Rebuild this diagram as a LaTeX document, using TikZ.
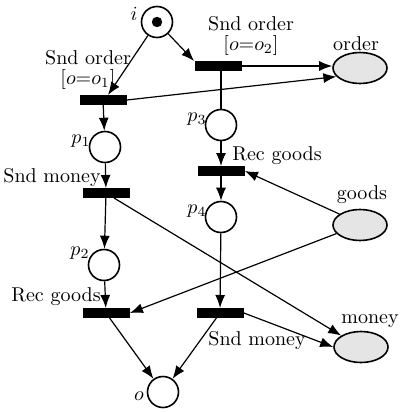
\documentclass[tikz,border=0pt]{standalone}
\usepackage{amsmath}
\usepackage{tikz}
\usetikzlibrary{shapes.geometric,arrows.meta,positioning,calc}
\tikzset{
  %Define standard arrow tip
  >={Latex[length=6.5pt,width=5pt]},
  %Define style for places
  plads/.style={
    circle,
    draw=black, thick,
    fill=white,
    minimum size=15.5pt,
    inner sep=0pt},
  %Define style for transitions
  overgang/.style={
    rectangle,
    fill=black,
    minimum width=23.5pt,
    minimum height=4.6pt,
    inner sep=0pt},
  %Define style for resources
  ressource/.style={
    ellipse,
    draw=black, thick,
    fill=gray!20,
    minimum width=27pt,
    minimum height=15.5pt,
    inner sep=0pt},
  % Define arc style
  kant/.style={
    ->,
    semithick},
  navn/.style={
    inner sep=1pt,
    font=\normalsize}
}
\begin{document}
\begin{tikzpicture}[x=0.5pt,y=-0.5pt]
  \useasboundingbox (0,0) rectangle (402,412);
  % places
  \node[plads] (i) at (157,22) {};
  \fill (i) circle (2.6pt);
  \node[plads] (p1) at (105,147) {};
  \node[plads] (p2) at (104,265) {};
  \node[plads] (p3) at (221,125) {};
  \node[plads] (p4) at (221,217) {};
  \node[plads] (o) at (163,392) {};
  % transitions
  \node[overgang] (sndord1) at (103,100) {};
  \node[overgang] (sndord2) at (218,66) {};
  \node[overgang] (sndmon1) at (106,193) {};
  \node[overgang] (recgds1) at (106,313) {};
  \node[overgang] (recgds2) at (221,171) {};
  \node[overgang] (sndmon2) at (220,313) {};
  % resources
  \node[ressource] (order) at (360,68) {};
  \node[ressource] (goods) at (360,225) {};
  \node[ressource] (money) at (361,347) {};
  % labels
  \node[navn] (li) at (134,14) {$i$};
  \node[navn] (lp1) at (81,141) {$p_1$};
  \node[navn] (lp2) at (80,253) {$p_2$};
  \node[navn] (lp3) at (197,119) {$p_3$};
  \node[navn] (lp4) at (197,211) {$p_4$};
  \node[navn] (lo) at (139,396) {$o$};
  \node[navn] (lorder) at (356,44) {order};
  \node[navn] (lgoods) at (362,195) {goods};
  \node[navn] (lmoney) at (370,321) {money};
  \node[navn,align=center] (lsndord1) at (88,70) {Snd order\\[-2pt]$[o{=}o_1]$};
  \node[navn,align=center] (lsndord2) at (251,36) {Snd order\\[-2pt]$[o{=}o_2]$};
  \node[navn] (lsndmon1) at (52,177) {Snd money};
  \node[navn] (lrecgds1) at (56,297) {Rec goods};
  \node[navn] (lrecgds2) at (277,156) {Rec goods};
  \node[navn] (lsndmon2) at (257,340) {Snd money};
  % arcs
  \path[kant]
    (i) edge ($(sndord1.north)+(5,0)$)
    (i) edge (sndord2.north west)
    (sndord2.east) edge (sndord2.east -| order.west)
    (sndord1.east) edge (order.200)
    (sndord1) edge (p1)
    (p1) edge (sndmon1)
    (sndmon1) edge (p2)
    (p2) edge (recgds1)
    (recgds1) edge (o)
    (p3) edge (recgds2)
    (recgds2) edge (p4)
    (p4) edge (sndmon2)
    (sndmon2) edge (o)
    (goods.152) edge (recgds2.east)
    (goods.200) edge (recgds1.east)
    (sndmon2.east) edge (money.west)
    ($(sndmon1.south)+(8,0)$) edge (money.150)
    ;
  \draw[semithick] (sndord2.south -| p3) -- (p3);
\end{tikzpicture}
\end{document}
